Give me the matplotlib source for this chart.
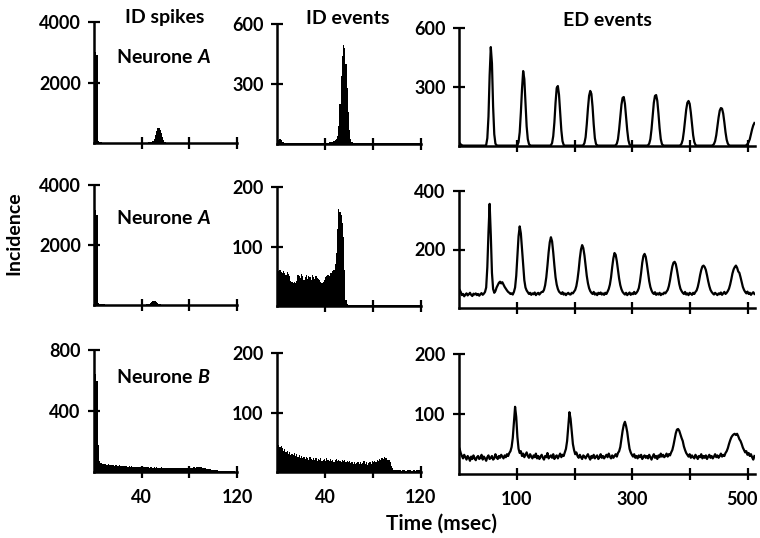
import numpy as np
import matplotlib
matplotlib.use("Agg")
import matplotlib.pyplot as plt
from matplotlib.transforms import ScaledTranslation

plt.rcParams['font.family'] = ['Lato', 'DejaVu Sans']
plt.rcParams['font.weight'] = 'bold'
plt.rcParams['mathtext.fontset'] = 'custom'
plt.rcParams['mathtext.it'] = 'Lato:italic:bold'
plt.rcParams['mathtext.rm'] = 'Lato:bold'

# ---------------- data ----------------
BIN_ID = 1.0   # ms per bin, ID spikes / ID events
BIN_ED = 2.0   # ms per bin, ED events

spk_a1 = [3050, 3000, 2900, 60, 25, 20, 18, 15, 14, 12, 12, 10, 10, 9, 9, 8, 8, 8, 7, 7,
          7, 7, 6, 6, 6, 6, 6, 6, 6, 6, 6, 6, 6, 7, 7, 7, 8, 8, 9, 10,
          10, 12, 12, 14, 15, 18, 22, 30, 45, 80, 140, 260, 400, 490, 500, 440, 330, 200, 90, 35,
          15, 10, 8, 7, 6, 6, 5, 5, 5, 5, 5, 5, 5, 5, 5, 5, 5, 5, 5, 5,
          5, 4, 5, 5, 4, 5, 5, 4, 5, 5, 4, 5, 5, 4, 5, 5, 4, 5, 5, 4,
          4, 5, 4, 4, 5, 4, 4, 5, 4, 4, 4, 4, 4, 4, 4, 4, 3, 3, 3, 3]

spk_a2 = [3200, 3150, 3000, 70, 30, 25, 22, 20, 18, 16, 15, 14, 13, 12, 12, 11, 11, 10, 10, 10,
          10, 10, 9, 9, 9, 9, 9, 9, 9, 9, 9, 10, 10, 10, 10, 10, 10, 10, 11, 11,
          12, 12, 14, 16, 20, 30, 50, 80, 115, 140, 150, 140, 110, 75, 45, 25, 15, 12, 10, 9,
          9, 8, 8, 8, 8, 7, 7, 7, 7, 7, 7, 7, 7, 7, 7, 7, 6, 6, 6, 6,
          6, 6, 6, 6, 6, 6, 6, 6, 6, 6, 5, 5, 5, 5, 5, 5, 5, 5, 5, 5,
          5, 5, 5, 5, 5, 4, 4, 4, 4, 4, 4, 4, 4, 4, 4, 3, 3, 3, 3, 3]

spk_b = [660, 640, 600, 180, 75, 62, 58, 55, 50, 52, 48, 46, 50, 45, 44, 47, 43, 42, 45, 41,
         40, 43, 39, 41, 38, 40, 37, 39, 36, 38, 35, 37, 34, 36, 33, 35, 34, 32, 35, 33,
         31, 34, 32, 30, 33, 31, 29, 32, 30, 28, 31, 29, 30, 28, 27, 29, 30, 27, 28, 26,
         28, 27, 25, 28, 26, 27, 24, 26, 28, 25, 27, 24, 26, 25, 23, 26, 24, 25, 23, 24,
         26, 28, 25, 30, 32, 28, 31, 33, 30, 34, 31, 28, 26, 24, 22, 20, 18, 17, 15, 14,
         13, 12, 11, 10, 9, 9, 8, 8, 7, 7, 6, 6, 5, 5, 5, 4, 4, 4, 3, 3]

ev_a1 = [10, 22, 25, 18, 10, 8, 7, 6, 6, 5, 5, 5, 5, 5, 5, 4, 4, 4, 4, 4,
         4, 4, 4, 4, 4, 4, 4, 4, 4, 4, 4, 4, 5, 5, 5, 5, 5, 5, 5, 6,
         6, 7, 7, 8, 9, 10, 12, 14, 18, 25, 40, 90, 200, 340, 440, 495, 480, 400, 280, 160,
         70, 25, 10, 7, 6, 5, 5, 5, 4, 4, 4, 4, 4, 4, 4, 4, 4, 4, 4, 4,
         4, 4, 4, 4, 4, 4, 4, 4, 4, 4, 3, 3, 3, 3, 3, 3, 3, 3, 3, 3,
         3, 3, 3, 3, 3, 3, 3, 3, 3, 3, 3, 3, 3, 3, 3, 3, 3, 3, 3, 3]

ev_a2 = [40, 58, 60, 57, 56, 58, 55, 52, 57, 54, 50, 42, 40, 38, 41, 39, 42, 52, 50, 47,
         53, 50, 44, 49, 52, 46, 51, 48, 44, 52, 49, 45, 50, 47, 46, 43, 40, 38, 41, 44,
         48, 50, 52, 51, 55, 56, 58, 60, 70, 89, 130, 163, 158, 153, 140, 116, 60, 10, 3, 2,
         2, 2, 1, 1, 1, 1, 1, 1, 1, 1, 1, 1, 1, 1, 1, 1, 1, 1, 1, 1,
         1, 1, 1, 1, 1, 1, 1, 1, 1, 1, 1, 1, 1, 1, 1, 1, 1, 1, 1, 1,
         1, 1, 1, 1, 1, 1, 1, 1, 1, 1, 1, 1, 1, 1, 1, 1, 1, 1, 1, 1]

ev_b = [38, 45, 42, 44, 40, 36, 38, 33, 35, 30, 34, 29, 31, 28, 32, 27, 30, 26, 28, 24,
        27, 23, 25, 22, 26, 24, 21, 25, 22, 20, 24, 21, 23, 19, 22, 20, 23, 18, 21, 22,
        19, 23, 20, 18, 22, 19, 21, 17, 20, 22, 18, 21, 19, 16, 20, 18, 21, 17, 19, 16,
        18, 15, 17, 14, 16, 13, 15, 17, 14, 16, 13, 15, 18, 14, 16, 12, 15, 17, 14, 18,
        16, 19, 17, 20, 18, 22, 21, 24, 22, 25, 23, 24, 21, 20, 16, 10, 6, 4, 3, 4,
        3, 4, 3, 2, 3, 4, 3, 2, 3, 3, 4, 3, 2, 3, 3, 2, 3, 4, 3, 2]

ed_a1 = [15, 8, 4, 2, 2, 2, 2, 2, 2, 2, 2, 2, 2, 2, 2, 2,
         2, 2, 2, 2, 2, 2, 2, 5, 40, 150, 360, 503, 420, 200, 60, 12,
         3, 2, 2, 2, 2, 2, 2, 2, 2, 2, 2, 2, 2, 2, 2, 2,
         2, 2, 4, 20, 70, 170, 290, 381, 340, 220, 100, 35, 10, 3, 2, 2,
         2, 2, 2, 2, 2, 2, 2, 2, 2, 2, 2, 2, 2, 2, 2, 4,
         15, 50, 120, 220, 295, 305, 260, 170, 80, 25, 6, 2, 2, 2, 2, 2,
         2, 2, 2, 2, 2, 2, 2, 2, 2, 2, 2, 4, 15, 45, 110, 190,
         255, 280, 265, 200, 110, 40, 10, 3, 2, 2, 2, 2, 2, 2, 2, 2,
         2, 2, 2, 2, 2, 2, 2, 4, 12, 35, 85, 150, 210, 245, 249, 215,
         150, 80, 30, 8, 3, 2, 2, 2, 2, 2, 2, 2, 2, 2, 2, 2,
         2, 2, 2, 4, 12, 35, 85, 155, 220, 255, 259, 230, 165, 90, 35, 10,
         3, 2, 2, 2, 2, 2, 2, 2, 2, 2, 2, 2, 2, 2, 2, 4,
         12, 32, 75, 130, 185, 220, 229, 215, 170, 110, 55, 20, 6, 2, 2, 2,
         2, 2, 2, 2, 2, 2, 2, 2, 2, 2, 2, 4, 10, 25, 55, 100,
         145, 180, 193, 190, 165, 120, 70, 32, 12, 4, 2, 2, 2, 2, 2, 2,
         2, 2, 2, 2, 2, 2, 2, 2, 4, 10, 20, 35, 60, 85, 105, 117]

ed_a2 = [62, 55, 44, 48, 40, 46, 50, 43, 47, 52, 45, 41, 49, 46, 50, 44,
         48, 42, 47, 51, 45, 49, 55, 70, 140, 260, 356, 250, 120, 65, 52, 58,
         70, 78, 86, 90, 84, 88, 80, 72, 66, 60, 55, 52, 48, 50, 46, 55,
         70, 110, 180, 245, 279, 255, 200, 140, 95, 70, 60, 54, 48, 52, 45, 50,
         47, 53, 44, 49, 52, 46, 51, 55, 55, 62, 78, 105, 145, 190, 225, 242,
         228, 190, 145, 105, 80, 65, 56, 52, 48, 54, 46, 50, 44, 49, 52, 47,
         46, 52, 50, 56, 62, 75, 98, 130, 170, 200, 215, 205, 180, 145, 110, 85,
         68, 58, 52, 48, 55, 46, 50, 44, 52, 48, 53, 46, 50, 45, 52, 48,
         56, 65, 80, 105, 140, 170, 188, 182, 160, 130, 100, 78, 64, 55, 50, 46,
         52, 44, 49, 53, 45, 50, 47, 55, 48, 52, 58, 68, 90, 120, 155, 178,
         185, 175, 150, 120, 92, 72, 60, 52, 48, 54, 45, 50, 46, 52, 44, 49,
         47, 53, 50, 56, 62, 75, 95, 120, 142, 155, 158, 150, 130, 105, 82, 66,
         58, 52, 48, 55, 46, 50, 44, 52, 49, 45, 52, 48, 55, 60, 72, 90,
         112, 130, 142, 145, 140, 130, 112, 92, 75, 62, 55, 50, 46, 52, 48, 44,
         50, 47, 53, 45, 50, 55, 48, 52, 58, 66, 80, 98, 118, 132, 140, 145,
         138, 125, 120, 105, 88, 72, 62, 55, 50, 56, 48, 52, 45, 50, 54, 48]

ed_b = [42, 35, 30, 26, 32, 28, 24, 30, 27, 22, 29, 25, 31, 26, 23, 28,
        30, 25, 27, 32, 24, 29, 26, 22, 28, 31, 25, 27, 30, 24, 26, 33,
        28, 25, 30, 27, 32, 29, 26, 31, 28, 33, 30, 35, 38, 45, 60, 85,
        112, 95, 62, 42, 35, 38, 30, 34, 28, 32, 36, 30, 27, 33, 29, 26,
        31, 28, 34, 26, 30, 25, 29, 32, 27, 24, 30, 28, 35, 26, 29, 31,
        27, 33, 25, 29, 31, 26, 30, 34, 28, 32, 30, 36, 42, 55, 78, 103,
        92, 70, 50, 40, 33, 36, 30, 27, 32, 28, 25, 31, 29, 26, 30, 33,
        28, 24, 30, 27, 32, 26, 29, 31, 25, 28, 33, 27, 30, 26, 29, 32,
        28, 34, 29, 26, 31, 27, 30, 33, 29, 35, 38, 45, 58, 72, 82, 87,
        80, 70, 55, 42, 36, 32, 29, 33, 27, 30, 26, 31, 28, 32, 25, 29,
        31, 27, 30, 26, 32, 28, 24, 29, 33, 27, 30, 25, 31, 28, 34, 29,
        32, 28, 30, 34, 29, 33, 31, 36, 40, 48, 58, 68, 74, 75, 72, 66,
        60, 55, 46, 40, 35, 32, 29, 33, 27, 31, 28, 26, 32, 29, 25, 30,
        28, 33, 26, 30, 27, 31, 25, 29, 32, 27, 30, 26, 29, 33, 28, 31,
        27, 30, 34, 29, 32, 30, 35, 38, 43, 50, 56, 61, 64, 66, 67, 65,
        67, 63, 58, 55, 50, 44, 40, 36, 38, 32, 35, 30, 33, 28, 24, 30]

col_titles = ["ID spikes", "ID events", "ED events"]
row_labels = ["Neurone $\\mathit{A}$", "Neurone $\\mathit{A}$", "Neurone $\\mathit{B}$"]
id_xticks = [40, 80, 120]
id_xlabels = ["40", "", "120"]
ed_xticks = [100, 200, 300, 400, 500]
ed_xlabels = ["100", "", "300", "", "500"]
ymax = [[4000, 600, 600], [4000, 200, 400], [800, 200, 200]]

# ---------------- layout (pixels) ----------------
W, H = 760, 538
fig = plt.figure(figsize=(W / 100, H / 100), dpi=100)
fig.patch.set_facecolor('white')

cols_px = [(94, 237), (277, 421), (459, 755)]
rows_px = [[(143, 22), (144, 24), (146, 28)],
           [(305, 185), (306, 187), (308, 191)],
           [(472, 350), (472, 353), (474, 354)]]

def rect(x0, x1, yb, yt):
    return [x0 / W, 1 - yb / H, (x1 - x0) / W, (yb - yt) / H]

data = [[spk_a1, ev_a1, ed_a1], [spk_a2, ev_a2, ed_a2], [spk_b, ev_b, ed_b]]

for r in range(3):
    for c in range(3):
        x0, x1 = cols_px[c]
        yb, yt = rows_px[r][c]
        ax = fig.add_axes(rect(x0, x1, yb, yt))
        vals = np.asarray(data[r][c], dtype=float)
        if c < 2:
            edges = np.arange(len(vals) + 1) * BIN_ID
            ax.stairs(vals, edges, fill=True, color='black', baseline=0, lw=0.6)
            ax.set_xlim(0, 120)
            ax.set_xticks(id_xticks)
            ax.set_xticklabels(id_xlabels if r == 2 else [""] * 3)
        else:
            centers = (np.arange(len(vals)) + 0.5) * BIN_ED
            ax.plot(centers, vals, color='black', lw=1.6)
            ax.set_xlim(0, 512)
            ax.set_xticks(ed_xticks)
            ax.set_xticklabels(ed_xlabels if r == 2 else [""] * 5)
        top = ymax[r][c]
        ax.set_ylim(0, top)
        ax.set_yticks([top / 2, top])
        ax.set_yticklabels([str(int(top / 2)), str(int(top))])
        for s in ['top', 'right']:
            ax.spines[s].set_visible(False)
        for s in ['left', 'bottom']:
            ax.spines[s].set_linewidth(1.8)
            ax.spines[s].set_color('black')
        ax.tick_params(direction='inout', length=9, width=1.6, colors='black',
                       labelsize=13, pad=5)
        ax.tick_params(axis='x', pad=8)
        for lab in ax.get_xticklabels() + ax.get_yticklabels():
            lab.set_fontweight('bold')
        if c == 2 and r == 2:
            last = ax.get_xticklabels()[-1]
            last.set_transform(last.get_transform() +
                               ScaledTranslation(-6 / 100, 0, fig.dpi_scale_trans))
        ax.patch.set_alpha(0)

def ftext(x, y, s, **kw):
    fig.text(x / W, 1 - y / H, s, ha='center', va='center', fontweight='bold', **kw)

ftext(165, 18, col_titles[0], fontsize=14)
ftext(348, 18, col_titles[1], fontsize=14)
ftext(607, 20, col_titles[2], fontsize=14)
ftext(164, 57, row_labels[0], fontsize=14)
ftext(164, 218, row_labels[1], fontsize=14)
ftext(163, 377, row_labels[2], fontsize=14)
ftext(14, 233, "Incidence", fontsize=14, rotation=90)
ftext(441, 524, "Time (msec)", fontsize=15)

fig.savefig("out.png", dpi=100, facecolor='white')
